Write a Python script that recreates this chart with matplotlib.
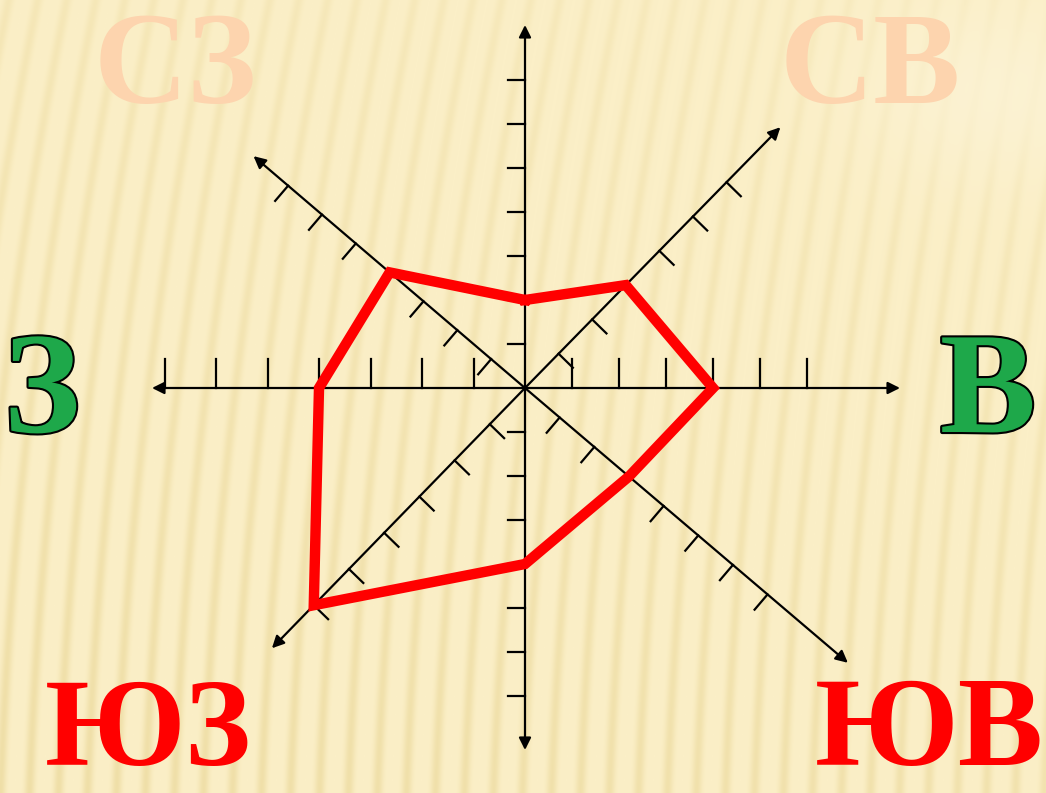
import numpy as np
import matplotlib
matplotlib.use('Agg')
import matplotlib.pyplot as plt
import matplotlib.patheffects as pe

# wind rose data: number of days with wind from each direction
directions = ['С', 'СВ', 'В', 'ЮВ', 'Ю', 'ЮЗ', 'З', 'СЗ']
days = [2, 3, 4, 3, 4, 6, 4, 4]

# hand-drawn axes geometry (pixel space, y up), one entry per direction
angles = [90, 45.6, 0, -40.4, -90, -134.2, 180, 139.5]
units = [44, 48, 47, 45.5, 44, 50.5, 51.5, 44.5]
n_ticks = [7, 6, 6, 7, 7, 6, 7, 7]
arrow_len = [363, 365, 375, 424, 362, 363, 373, 357]
tick_side = [1, -1, 1, -1, -1, 1, -1, 1]
tick_len = [17, 20, 29, 20, 17, 20, 29, 20]

W, H = 1046, 793
cx, cy = 525, 405

fig = plt.figure(figsize=(W / 100, H / 100), dpi=100)
ax = fig.add_axes([0, 0, 1, 1])
ax.set_xlim(0, W)
ax.set_ylim(0, H)
ax.axis('off')

# striped cream background, stripes lean "/" near the top
yy, xx = np.mgrid[0:H, 0:W]
lean = 0.12 * (H - yy) * (0.3 + 0.7 * (1 - yy / H))
phase = (xx - lean) / 29.0
stripe = 0.5 + 0.5 * np.cos(2 * np.pi * phase)
stripe = stripe ** 3
base = np.array([251, 239, 199]) / 255
dark = np.array([238, 221, 164]) / 255
amount = 0.25 + 0.45 * (yy / H) + 0.2 * (1 - xx / W)
glare = np.exp(-(((xx - 1000) / 140.0) ** 2 + ((yy - 90) / 90.0) ** 2))
amount = amount * (1 - 0.7 * glare)
img = base + (dark - base) * (stripe * amount)[..., None]
img = img + (1 - img) * 0.2 * glare[..., None]
ax.imshow(img, extent=[0, W, 0, H], origin='upper', zorder=0, aspect='auto')

# axes with arrows and ticks
for ang, u, nt, L, side, tl in zip(angles, units, n_ticks, arrow_len, tick_side, tick_len):
    a = np.radians(ang)
    d = np.array([np.cos(a), np.sin(a)])
    p = np.array([-d[1], d[0]]) * side
    tip = (cx + L * d[0], cy + L * d[1])
    ax.annotate('', xy=tip, xytext=(cx, cy),
                arrowprops=dict(arrowstyle='-|>', lw=1.6, color='black',
                                mutation_scale=18, shrinkA=0, shrinkB=0),
                zorder=2)
    for k in range(1, nt + 1):
        q = np.array([cx, cy]) + k * u * d
        ax.plot([q[0], q[0] + tl * p[0]], [q[1], q[1] + tl * p[1]],
                color='black', lw=1.6, zorder=2)

# the wind rose polygon
px, py = [], []
for v, ang, u in zip(days, angles, units):
    a = np.radians(ang)
    px.append(cx + v * u * np.cos(a))
    py.append(cy + v * u * np.sin(a))
px.append(px[0])
py.append(py[0])
ax.plot(px, py, color='#ff0000', lw=7.5, solid_joinstyle='miter', zorder=3)

serif = dict(family='Liberation Serif', fontweight='bold')
outline = [pe.withStroke(linewidth=3, foreground='black')]
ax.text(175, 690, 'СЗ', color='#fdd4ae', fontsize=94, ha='center', va='baseline', **serif)
ax.text(870, 690, 'СВ', color='#fdd4ae', fontsize=94, ha='center', va='baseline', **serif)
ax.text(42, 361, 'З', color='#1ea84a', fontsize=104, ha='center', va='baseline',
        path_effects=outline, **serif)
ax.text(988, 361, 'В', color='#1ea84a', fontsize=104, ha='center', va='baseline',
        path_effects=outline, **serif)
ax.text(148, 28, 'ЮЗ', color='#ff0000', fontsize=90, ha='center', va='baseline', **serif)
ax.text(1044, 28, 'ЮВ', color='#ff0000', fontsize=92, ha='right', va='baseline', **serif)

fig.savefig('out.png', dpi=100)
